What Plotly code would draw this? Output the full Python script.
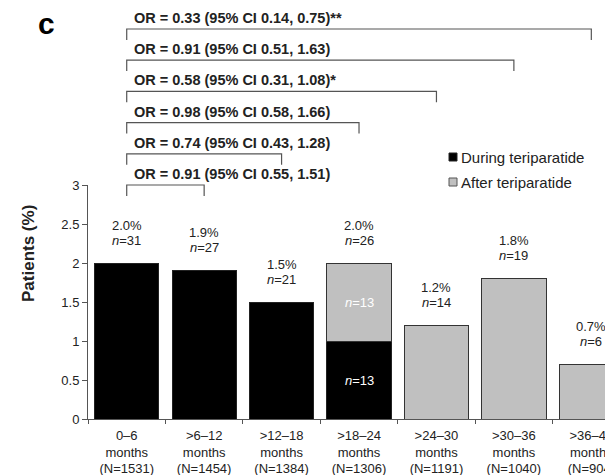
import plotly.graph_objects as go

# ---- data ----
categories = ["0–6<br>months<br>(N=1531)", ">6–12<br>months<br>(N=1454)",
              ">12–18<br>months<br>(N=1384)", ">18–24<br>months<br>(N=1306)",
              ">24–30<br>months<br>(N=1191)", ">30–36<br>months<br>(N=1040)",
              ">36–42<br>months<br>(N=904)"]
during_pct = [2.0, 1.9, 1.5, 1.0, None, None, None]
after_pct = [None, None, None, 1.0, 1.2, 1.8, 0.7]
total_pct_labels = ["2.0%", "1.9%", "1.5%", "2.0%", "1.2%", "1.8%", "0.7%"]
total_pct = [2.0, 1.9, 1.5, 2.0, 1.2, 1.8, 0.7]
total_n = [31, 27, 21, 26, 14, 19, 6]
split_n_during = 13
split_n_after = 13
split_index = 3
or_labels = ["OR = 0.91 (95% CI 0.55, 1.51)",
             "OR = 0.74 (95% CI 0.43, 1.28)",
             "OR = 0.98 (95% CI 0.58, 1.66)",
             "OR = 0.58 (95% CI 0.31, 1.08)*",
             "OR = 0.91 (95% CI 0.51, 1.63)",
             "OR = 0.33 (95% CI 0.14, 0.75)**"]
or_compare_to = [1, 2, 3, 4, 5, 6]
y_ticks = [0, 0.5, 1, 1.5, 2, 2.5, 3]
y_tick_text = ["0", "0.5", "1", "1.5", "2", "2.5", "3"]

# ---- layout geometry ----
OFF = 8  # page body margin
W, H = 605, 467
ML, MR, MT, MB = 80, 0, 177, 56
YMAX = 3.0
FONT = "Arial, Liberation Sans, sans-serif"
TXT = "#222222"
GRAY = "#C0C0C0"
EDGE = "#333333"


def ypaper(v):
    return v / YMAX


def xpaper(px):
    return (px - OFF - ML) / (W - ML - MR)


def ypaper_px(py):
    return (H - MB - (py - OFF)) / (H - MT - MB)


fig = go.Figure()
fig.add_trace(go.Bar(x=categories, y=during_pct, name="During teriparatide",
                     marker=dict(color="#000000", line=dict(color="#222222", width=1))))
fig.add_trace(go.Bar(x=categories, y=after_pct, name="After teriparatide",
                     marker=dict(color=GRAY, line=dict(color=EDGE, width=1))))

annotations = []
shapes = []

# bar top labels
for i, c in enumerate(categories):
    annotations.append(dict(x=c, y=total_pct[i], xref="x", yref="y", text=total_pct_labels[i],
                            showarrow=False, xanchor="center", yanchor="middle", yshift=38,
                            font=dict(family=FONT, size=13, color=TXT)))
    annotations.append(dict(x=c, y=total_pct[i], xref="x", yref="y",
                            text="<i>n</i>=%d" % total_n[i],
                            showarrow=False, xanchor="center", yanchor="middle", yshift=23,
                            font=dict(family=FONT, size=13, color=TXT)))

# split labels inside bar
annotations.append(dict(x=categories[split_index], y=after_pct[split_index] / 2 + during_pct[split_index],
                        xref="x", yref="y", text="<i>n</i>=%d" % split_n_after, showarrow=False,
                        xanchor="center", yanchor="middle",
                        font=dict(family=FONT, size=13, color="white")))
annotations.append(dict(x=categories[split_index], y=during_pct[split_index] / 2,
                        xref="x", yref="y", text="<i>n</i>=%d" % split_n_during, showarrow=False,
                        xanchor="center", yanchor="middle",
                        font=dict(family=FONT, size=13, color="white")))

# OR brackets
drop = 0.14
for k, (lab, j) in enumerate(zip(or_labels, or_compare_to)):
    lvl = 3.0 + 0.4 * k
    yl = ypaper(lvl)
    yd = ypaper(lvl - drop)
    shapes.append(dict(type="path", xref="x", yref="paper",
                       path="M 0 %f L 0 %f L %d %f L %d %f" % (yd, yl, j, yl, j, yd),
                       line=dict(color="#555555", width=1.2)))
    annotations.append(dict(x=0, y=yl, xref="x", yref="paper", text="<b>%s</b>" % lab,
                            showarrow=False, xanchor="left", yanchor="middle",
                            xshift=5, yshift=11,
                            font=dict(family=FONT, size=14.5, color=TXT)))

# panel letter
annotations.append(dict(x=xpaper(46), y=ypaper_px(23), xref="paper", yref="paper",
                        text="<b>c</b>", showarrow=False, xanchor="center", yanchor="middle",
                        font=dict(family=FONT, size=30, color="#000")))

# y title
annotations.append(dict(x=xpaper(28), y=ypaper_px(254), xref="paper", yref="paper",
                        text="<b>Patients (%)</b>", textangle=-90, showarrow=False,
                        xanchor="center", yanchor="middle",
                        font=dict(family=FONT, size=17, color=TXT)))

# custom legend
leg_items = [("During teriparatide", "#000000", "#222222", 157),
             ("After teriparatide", GRAY, "#555555", 182)]
for name, fc, lc, py in leg_items:
    shapes.append(dict(type="rect", xref="paper", yref="paper",
                       x0=xpaper(449), x1=xpaper(457), y0=ypaper_px(py + 4), y1=ypaper_px(py - 4),
                       fillcolor=fc, line=dict(color=lc, width=1)))
    annotations.append(dict(x=xpaper(459), y=ypaper_px(py), xref="paper", yref="paper",
                            text=name, showarrow=False, xanchor="left", yanchor="middle",
                            font=dict(family=FONT, size=15, color=TXT)))

fig.update_layout(
    width=W, height=H,
    margin=dict(l=ML, r=MR, t=MT, b=MB, pad=0),
    barmode="stack", bargap=0.17,
    plot_bgcolor="white", paper_bgcolor="white",
    showlegend=False,
    annotations=annotations, shapes=shapes,
    font=dict(family=FONT, color=TXT),
)
fig.update_xaxes(type="category", range=[-0.5, 6.28], showline=True, linecolor="#555555",
                 linewidth=1, ticks="outside", tickson="boundaries", ticklen=4,
                 tickcolor="#555555", showgrid=False, zeroline=False, automargin=False,
                 ticklabelstandoff=4,
                 tickfont=dict(family=FONT, size=13, color=TXT))
fig.update_yaxes(range=[0, YMAX], tickvals=y_ticks, ticktext=y_tick_text, showline=True,
                 linecolor="#555555", linewidth=1, ticks="outside", ticklen=5,
                 tickcolor="#555555", showgrid=False, zeroline=False, automargin=False,
                 tickfont=dict(family=FONT, size=13, color=TXT))

fig.write_html("out.html")
